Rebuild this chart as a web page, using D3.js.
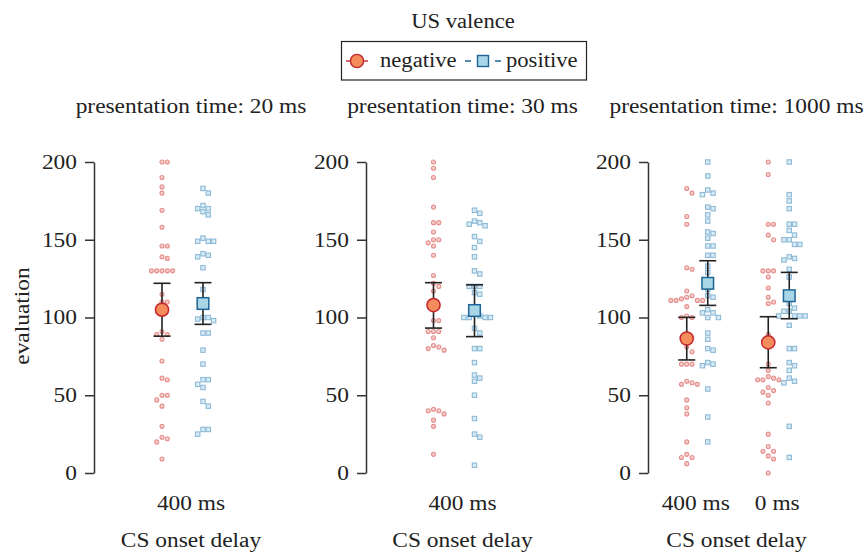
<!DOCTYPE html>
<html>
<head>
<meta charset="utf-8">
<script src="https://cdn.jsdelivr.net/npm/d3@7"></script>
<style>
  body { margin: 0; background: #fff; }
  svg text { font-family: "Liberation Serif", "DejaVu Serif", serif; fill: #222; }
</style>
</head>
<body>
<div id="chart"></div>
<script>
// Chart data
var valences = ["negative", "positive"];
var delays1000 = ["400 ms", "0 ms"];
var panelTitles = ["presentation time: 20 ms", "presentation time: 30 ms", "presentation time: 1000 ms"];
var yTicks = [0, 50, 100, 150, 200];

// individual evaluations
var neg20 = [200, 200, 190, 184, 180, 169, 158, 146, 146, 138, 139, 130, 130, 130, 130, 130, 115, 110, 110,
  91, 89, 89, 86, 72, 61, 60, 50, 50, 47, 43, 30, 23, 22, 20, 9];
var pos20 = [183, 180, 172, 170, 170, 168, 166, 151, 149, 149, 149, 141, 140, 139, 132, 118, 111, 100, 100,
  99, 98, 90, 90, 79, 70, 60, 60, 57, 55, 46, 43, 28, 28, 25];
var neg30 = [200, 196, 190, 171, 161, 161, 155, 150, 150, 148, 146, 140, 127, 122, 120, 117, 110, 98, 98,
  91, 91, 91, 87, 81, 79, 80, 82, 40, 38, 40, 41, 34, 30, 12];
var pos30 = [169, 167, 162, 161, 159, 160, 152, 149, 145, 139, 130, 128, 120, 120, 120, 116, 115, 101, 102,
  100, 100, 100, 100, 93, 90, 80, 80, 71, 63, 61, 59, 50, 35, 25, 23, 5];
var neg1000d400 = [183, 180, 165, 160, 131, 132, 117, 114, 113, 111, 111, 111, 111, 112, 107, 101, 100, 100,
  81, 78, 70, 70, 70, 58, 57, 57, 59, 47, 42, 38, 20, 12, 10, 10, 6];
var pos1000d400 = [200, 191, 182, 179, 180, 170, 171, 166, 162, 155, 154, 151, 146, 146, 140, 140, 133, 129,
  118, 113, 114, 103, 105, 103, 100, 100, 90, 86, 79, 80, 71, 69, 70, 54, 36, 20];
var neg1000d0 = [200, 192, 160, 160, 153, 150, 130, 130, 130, 126, 119, 113, 109, 110, 89, 70, 66, 62, 60,
  60, 60, 61, 55, 53, 52, 50, 45, 25, 17, 14, 14, 11, 9, 0];
var pos1000d0 = [200, 179, 175, 170, 160, 160, 156, 153, 150, 150, 147, 147, 139, 137, 138, 131, 126, 109,
  106, 104, 104, 101, 101, 101, 101, 95, 80, 80, 71, 69, 66, 61, 58, 59, 30, 10];

// means with lower / upper error bar ends
var negMeans = [105, 108, 86.5, 84];
var posMeans = [109, 104.5, 122, 114];
var negLow = [88, 93.2, 72.7, 67.7];
var negHigh = [122, 122.4, 100.1, 100.5];
var posLow = [95.6, 87.7, 107.8, 99.2];
var posHigh = [122.4, 121, 136.5, 129];

var svgWidth = 867;
var svgHeight = 552;
var fontSize = "20px";

var svg = d3.select("#chart")
  .append("svg")
  .attr("width", svgWidth)
  .attr("height", svgHeight);

var yScale = d3.scaleLinear().domain([0, 200]).range([473, 162]);

// colours
var negFill = "#f48c5c", negStroke = "#c4262b";
var posFill = "#a9d6e6", posStroke = "#1d6596";
var negPtFill = "#f7d0cd", negPtStroke = "#e58e8c";
var posPtFill = "#d8eaf4", posPtStroke = "#8dbad7";

// panel layout
var panels = [
  { title: panelTitles[0], axisX: 94, range: [94, 288], cats: ["400 ms"], dodge: [-29, 12],
    groups: [{ cat: "400 ms", neg: neg20, pos: pos20, i: 0 }] },
  { title: panelTitles[1], axisX: 366, range: [366, 559], cats: ["400 ms"], dodge: [-29, 12],
    groups: [{ cat: "400 ms", neg: neg30, pos: pos30, i: 1 }] },
  { title: panelTitles[2], axisX: 648, range: [655, 818], cats: delays1000, dodge: [-9, 12],
    groups: [{ cat: "400 ms", neg: neg1000d400, pos: pos1000d400, i: 2 },
             { cat: "0 ms", neg: neg1000d0, pos: pos1000d0, i: 3 }] }
];

// simple beeswarm: spread points with close values sideways
function swarm(values, cx, step) {
  var placed = [];
  values.slice().sort(function(a, b) { return b - a; }).forEach(function(v) {
    var py = yScale(v);
    for (var k = 0; k < 40; k++) {
      var off = (k === 0) ? 0 : (k % 2 === 1 ? 1 : -1) * Math.ceil(k / 2) * step;
      var px = cx + off;
      var hit = placed.some(function(p) {
        return Math.abs(p.y - py) < step * 0.9 && Math.abs(p.x - px) < step * 0.9;
      });
      if (!hit) { placed.push({ x: px, y: py, v: v }); break; }
    }
  });
  return placed;
}

panels.forEach(function(panel, pi) {
  var xBand = d3.scaleBand().domain(panel.cats).range(panel.range);
  var xDodge = d3.scalePoint().domain(valences).range(panel.dodge);
  var mid = (panel.range[0] + panel.range[1]) / 2;
  var g = svg.append("g");

  // title
  g.append("text")
    .attr("x", mid)
    .attr("y", 113)
    .attr("text-anchor", "middle")
    .style("font-size", fontSize)
    .text(panel.title);

  // y axis
  var yAxis = d3.axisLeft(yScale).tickValues(yTicks).tickSize(9).tickPadding(8).tickSizeOuter(0);
  var ya = g.append("g")
    .attr("transform", `translate(${panel.axisX}, 0)`)
    .call(yAxis);
  ya.select(".domain").attr("stroke", "#333").attr("stroke-width", 1.5);
  ya.selectAll(".tick line").attr("stroke", "#333").attr("stroke-width", 1.5);
  ya.selectAll(".tick text").style("font-size", fontSize).attr("fill", "#222");

  // x axis: only labels
  var xAxis = d3.axisBottom(xBand).tickSize(0).tickPadding(0);
  var xa = g.append("g")
    .attr("transform", "translate(0, 496)")
    .call(xAxis);
  xa.select(".domain").remove();
  xa.selectAll(".tick text").attr("dy", "0.71em").style("font-size", fontSize).attr("fill", "#222");

  g.append("text")
    .attr("x", mid)
    .attr("y", 547)
    .attr("text-anchor", "middle")
    .style("font-size", fontSize)
    .text("CS onset delay");

  panel.groups.forEach(function(grp) {
    var cxNeg = xBand(grp.cat) + xBand.bandwidth() / 2 + xDodge("negative");
    var cxPos = xBand(grp.cat) + xBand.bandwidth() / 2 + xDodge("positive");

    // raw points
    g.append("g").selectAll("circle")
      .data(swarm(grp.neg, cxNeg, 5.3))
      .enter()
      .append("circle")
      .attr("cx", d => d.x)
      .attr("cy", d => d.y)
      .attr("r", 2)
      .attr("fill", negPtFill)
      .attr("stroke", negPtStroke)
      .attr("stroke-width", 1.1);

    g.append("g").selectAll("rect")
      .data(swarm(grp.pos, cxPos, 5.3))
      .enter()
      .append("rect")
      .attr("x", d => d.x - 2.2)
      .attr("y", d => d.y - 2.2)
      .attr("width", 4.4)
      .attr("height", 4.4)
      .attr("fill", posPtFill)
      .attr("stroke", posPtStroke)
      .attr("stroke-width", 1.1);

    // error bars
    var bars = [
      { cx: cxNeg, lo: negLow[grp.i], hi: negHigh[grp.i] },
      { cx: cxPos, lo: posLow[grp.i], hi: posHigh[grp.i] }
    ];
    bars.forEach(function(b) {
      var eb = g.append("g").attr("stroke", "#222").attr("stroke-width", 1.6);
      eb.append("line")
        .attr("x1", b.cx).attr("x2", b.cx)
        .attr("y1", yScale(b.lo)).attr("y2", yScale(b.hi));
      [b.lo, b.hi].forEach(function(v) {
        eb.append("line")
          .attr("x1", b.cx - 8.5).attr("x2", b.cx + 8.5)
          .attr("y1", yScale(v)).attr("y2", yScale(v));
      });
    });

    // means
    g.append("circle")
      .attr("cx", cxNeg)
      .attr("cy", yScale(negMeans[grp.i]))
      .attr("r", 6.6)
      .attr("fill", negFill)
      .attr("stroke", negStroke)
      .attr("stroke-width", 1.5);
    g.append("rect")
      .attr("x", cxPos - 5.8)
      .attr("y", yScale(posMeans[grp.i]) - 5.8)
      .attr("width", 11.6)
      .attr("height", 11.6)
      .attr("fill", posFill)
      .attr("stroke", posStroke)
      .attr("stroke-width", 1.5);
  });
});

// y axis title
svg.append("text")
  .attr("transform", "translate(29, 316) rotate(-90)")
  .attr("text-anchor", "middle")
  .style("font-size", fontSize)
  .text("evaluation");

// legend
var legend = svg.append("g");
legend.append("text")
  .attr("x", 463)
  .attr("y", 28)
  .attr("text-anchor", "middle")
  .style("font-size", fontSize)
  .text("US valence");
legend.append("rect")
  .attr("x", 341.5).attr("y", 41.5)
  .attr("width", 245).attr("height", 38.5)
  .attr("fill", "none")
  .attr("stroke", "#222")
  .attr("stroke-width", 1.2);

legend.append("line")
  .attr("x1", 346).attr("x2", 368).attr("y1", 61).attr("y2", 61)
  .attr("stroke", negStroke).attr("stroke-width", 1.4);
legend.append("circle")
  .attr("cx", 357).attr("cy", 61).attr("r", 6.6)
  .attr("fill", negFill).attr("stroke", negStroke).attr("stroke-width", 1.4);
legend.append("text")
  .attr("x", 380).attr("y", 67)
  .style("font-size", fontSize)
  .text(valences[0]);

legend.append("line")
  .attr("x1", 465).attr("x2", 501).attr("y1", 61).attr("y2", 61)
  .attr("stroke", posStroke).attr("stroke-width", 1.4)
  .attr("stroke-dasharray", "6,24,6");
legend.append("rect")
  .attr("x", 477.5).attr("y", 55.5).attr("width", 11).attr("height", 11)
  .attr("fill", posFill).attr("stroke", posStroke).attr("stroke-width", 1.4);
legend.append("text")
  .attr("x", 506).attr("y", 67)
  .style("font-size", fontSize)
  .text(valences[1]);

// the reference typeface is set wider than Times: stretch every label sideways
svg.selectAll("text").each(function() {
  var len = this.getComputedTextLength();
  var k = this.parentNode === legend.node() ? 1.13 : 1.17;
  d3.select(this)
    .attr("textLength", len * k)
    .attr("lengthAdjust", "spacingAndGlyphs");
});
</script>
</body>
</html>
